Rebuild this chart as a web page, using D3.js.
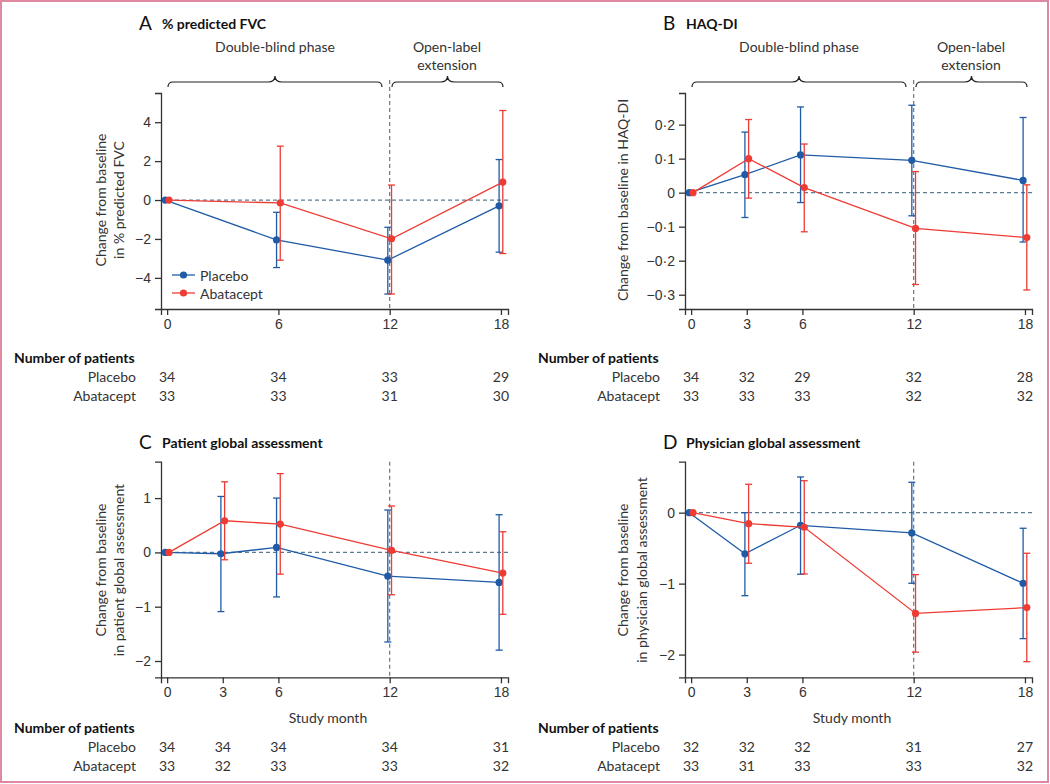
<!DOCTYPE html>
<html>
<head>
<meta charset="utf-8">
<script src="https://cdn.jsdelivr.net/npm/d3@7"></script>
<style>
  body { margin: 0; background: #fff; }
  svg { display: block; font-family: Lato, "Open Sans", sans-serif; }
  .tick text { font-size: 14px; fill: #333; }
  .tick line, .domain { stroke: #333; stroke-width: 1.3; }
</style>
</head>
<body>
<script>
// study months
var fvcMonths = [0, 6, 12, 18];
var months = [0, 3, 6, 12, 18];

// A: % predicted FVC
var fvcPlaceboMean = [0, -2.05, -3.09, -0.3];
var fvcPlaceboLow = [null, -3.47, -4.83, -2.68];
var fvcPlaceboHigh = [null, -0.63, -1.4, 2.08];
var fvcAbataceptMean = [0, -0.15, -1.99, 0.92];
var fvcAbataceptLow = [null, -3.09, -4.83, -2.75];
var fvcAbataceptHigh = [null, 2.77, 0.77, 4.6];
var fvcPlaceboN = [34, 34, 33, 29];
var fvcAbataceptN = [33, 33, 31, 30];
var fvcTicks = [-4, -2, 0, 2, 4];

// B: HAQ-DI
var haqPlaceboMean = [0, 0.053, 0.111, 0.095, 0.036];
var haqPlaceboLow = [null, -0.073, -0.029, -0.068, -0.145];
var haqPlaceboHigh = [null, 0.178, 0.252, 0.257, 0.221];
var haqAbataceptMean = [0, 0.1, 0.015, -0.105, -0.132];
var haqAbataceptLow = [null, -0.016, -0.115, -0.27, -0.286];
var haqAbataceptHigh = [null, 0.215, 0.143, 0.062, 0.023];
var haqPlaceboN = [34, 32, 29, 32, 28];
var haqAbataceptN = [33, 33, 33, 32, 32];
var haqTicks = [-0.3, -0.2, -0.1, 0, 0.1, 0.2];

// C: patient global assessment
var ptPlaceboMean = [0, -0.025, 0.092, -0.437, -0.553];
var ptPlaceboLow = [null, -1.09, -0.82, -1.65, -1.8];
var ptPlaceboHigh = [null, 1.03, 1.0, 0.78, 0.694];
var ptAbataceptMean = [0, 0.583, 0.522, 0.037, -0.38];
var ptAbataceptLow = [null, -0.136, -0.4, -0.78, -1.14];
var ptAbataceptHigh = [null, 1.3, 1.45, 0.854, 0.38];
var ptPlaceboN = [34, 34, 34, 34, 31];
var ptAbataceptN = [33, 32, 33, 33, 32];
var ptTicks = [-2, -1, 0, 1];

// D: physician global assessment
var phPlaceboMean = [0, -0.58, -0.178, -0.286, -0.995];
var phPlaceboLow = [null, -1.17, -0.868, -0.995, -1.775];
var phPlaceboHigh = [null, 0, 0.503, 0.428, -0.22];
var phAbataceptMean = [0, -0.155, -0.206, -1.42, -1.338];
var phAbataceptLow = [null, -0.713, -0.864, -1.966, -2.1];
var phAbataceptHigh = [null, 0.4, 0.45, -0.873, -0.572];
var phPlaceboN = [32, 32, 32, 31, 27];
var phAbataceptN = [33, 31, 33, 33, 32];
var phTicks = [-2, -1, 0];

var BLUE = "#1f5ba6", RED = "#ee3b34", DASH = "#5a7d92", INK = "#333";

var svg = d3.select("body").append("svg")
    .attr("width", 1050).attr("height", 784);

// pink frame
svg.append("rect")
    .attr("x", 1).attr("y", 1).attr("width", 1047).attr("height", 781)
    .attr("fill", "none").attr("stroke", "#df88a1").attr("stroke-width", 2);

// number format with middle dot and real minus
function fmt(d) {
    if (Math.abs(d) < 1e-9) return "0";
    var s = String(Math.round(Math.abs(d) * 10) / 10).replace(".", "\u00b7");
    return (d < 0 ? "\u2212" : "") + s;
}

function brace(g, x1, x2) {
    var mid = (x1 + x2) / 2, yb = 87, yf = 82, yt = 76;
    g.append("path")
        .attr("d", "M" + x1 + "," + yb + " Q" + x1 + "," + yf + " " + (x1 + 5) + "," + yf +
            " L" + (mid - 7) + "," + yf + " Q" + mid + "," + yf + " " + mid + "," + yt +
            " Q" + mid + "," + yf + " " + (mid + 7) + "," + yf +
            " L" + (x2 - 5) + "," + yf + " Q" + x2 + "," + yf + " " + x2 + "," + yb)
        .attr("fill", "none").attr("stroke", "#222").attr("stroke-width", 1.2);
}

function drawPanel(p) {
    var g = svg.append("g").attr("transform", "translate(" + p.ox + ",0)");

    var x = d3.scaleLinear().domain([-0.33, 18.38]).range([161, 508]);
    var y = d3.scaleLinear().domain(p.yDomain).range([p.bottom, p.top]);

    // title
    g.append("text").attr("x", 139).attr("y", p.titleY)
        .attr("dominant-baseline", "central")
        .style("font-size", "19px").style("fill", "#111").text(p.letter);
    g.append("text").attr("x", 162).attr("y", p.titleY + 1)
        .attr("dominant-baseline", "central")
        .style("font-size", "14px").style("font-weight", "bold").style("fill", "#111")
        .text(p.title);

    // phase braces + labels (top panels only)
    if (p.braces) {
        brace(g, 168, 382);
        brace(g, 392, 503);
        g.append("text").attr("x", 275).attr("y", 46).attr("text-anchor", "middle")
            .attr("dominant-baseline", "central").style("font-size", "14px").style("fill", INK)
            .text("Double-blind phase");
        g.append("text").attr("x", 447).attr("y", 46).attr("text-anchor", "middle")
            .attr("dominant-baseline", "central").style("font-size", "14px").style("fill", INK)
            .text("Open-label");
        g.append("text").attr("x", 447).attr("y", 64).attr("text-anchor", "middle")
            .attr("dominant-baseline", "central").style("font-size", "14px").style("fill", INK)
            .text("extension");
    }

    // reference lines
    g.append("line").attr("x1", 161).attr("x2", 508).attr("y1", y(0)).attr("y2", y(0))
        .attr("stroke", DASH).attr("stroke-width", 1.2).attr("stroke-dasharray", "4,3");
    g.append("line").attr("x1", x(12)).attr("x2", x(12)).attr("y1", p.vTop).attr("y2", p.bottom)
        .attr("stroke", DASH).attr("stroke-width", 1.2).attr("stroke-dasharray", "4,3");

    // axes
    g.append("g").attr("transform", "translate(0," + p.bottom + ")")
        .call(d3.axisBottom(x).tickValues(p.months).tickSizeOuter(0).tickSize(6).tickPadding(4));
    g.append("g").attr("transform", "translate(161,0)")
        .call(d3.axisLeft(y).tickValues(p.yTicks).tickFormat(fmt).tickSizeOuter(0).tickSize(6).tickPadding(4));

    // y-axis title
    var yl = g.append("g").attr("transform", "translate(0," + p.ylCenter + ") rotate(-90)");
    p.yLabel.forEach(function (t, i) {
        yl.append("text").attr("x", 0).attr("y", p.ylX[i])
            .attr("text-anchor", "middle").attr("dominant-baseline", "central")
            .style("font-size", "14px").style("fill", INK).text(t);
    });

    if (p.xLabel) {
        g.append("text").attr("x", 328).attr("y", 717).attr("text-anchor", "middle")
            .attr("dominant-baseline", "central").style("font-size", "14px").style("fill", INK)
            .text("Study month");
    }

    // series
    p.series.forEach(function (s) {
        var pts = p.months.map(function (m, i) {
            return { m: m + s.shift, v: s.mean[i], lo: s.low[i], hi: s.high[i] };
        });
        var bars = pts.filter(function (d) { return d.lo !== null; });
        var eb = g.append("g").attr("stroke", s.color).attr("stroke-width", 1.3);
        bars.forEach(function (d) {
            eb.append("line").attr("x1", x(d.m)).attr("x2", x(d.m)).attr("y1", y(d.lo)).attr("y2", y(d.hi));
            eb.append("line").attr("x1", x(d.m) - 3.5).attr("x2", x(d.m) + 3.5).attr("y1", y(d.lo)).attr("y2", y(d.lo));
            eb.append("line").attr("x1", x(d.m) - 3.5).attr("x2", x(d.m) + 3.5).attr("y1", y(d.hi)).attr("y2", y(d.hi));
        });
        g.append("path").datum(pts)
            .attr("fill", "none").attr("stroke", s.color).attr("stroke-width", 1.3)
            .attr("d", d3.line().x(function (d) { return x(d.m); }).y(function (d) { return y(d.v); }));
        g.selectAll(null).data(pts).enter().append("circle")
            .attr("cx", function (d) { return x(d.m); })
            .attr("cy", function (d) { return y(d.v); })
            .attr("r", 3.6).attr("fill", s.color);
    });

    // legend (panel A)
    if (p.legend) {
        p.series.forEach(function (s, i) {
            var ly = 275 + i * 18;
            g.append("line").attr("x1", 172).attr("x2", 195).attr("y1", ly).attr("y2", ly)
                .attr("stroke", s.color).attr("stroke-width", 1.3);
            g.append("circle").attr("cx", 183.5).attr("cy", ly).attr("r", 3.6).attr("fill", s.color);
            g.append("text").attr("x", 200).attr("y", ly).attr("dominant-baseline", "central")
                .style("font-size", "14px").style("fill", INK).text(s.name);
        });
    }

    // number at risk table
    g.append("text").attr("x", 14).attr("y", p.tableY).attr("dominant-baseline", "central")
        .style("font-size", "14px").style("font-weight", "bold").style("fill", "#111")
        .text("Number of patients");
    p.series.forEach(function (s, i) {
        var ry = p.tableY + 19.5 + i * 19;
        g.append("text").attr("x", 136).attr("y", ry).attr("text-anchor", "end")
            .attr("dominant-baseline", "central").style("font-size", "14px").style("fill", INK)
            .text(s.name);
        g.selectAll(null).data(s.n).enter().append("text")
            .attr("x", function (d, j) { return x(p.months[j]); })
            .attr("y", ry).attr("text-anchor", "middle").attr("dominant-baseline", "central")
            .style("font-size", "14px").style("fill", INK)
            .text(function (d) { return d; });
    });
}

drawPanel({
    ox: 0, letter: "A", title: "% predicted FVC", titleY: 22,
    top: 93, bottom: 309, vTop: 80, yDomain: [-5.6, 5.5], yTicks: fvcTicks,
    months: fvcMonths, braces: true, legend: true, xLabel: false,
    yLabel: ["Change from baseline", "in % predicted FVC"], ylX: [100, 118], ylCenter: 200,
    tableY: 357,
    series: [
        { name: "Placebo", color: BLUE, shift: -0.1, mean: fvcPlaceboMean, low: fvcPlaceboLow, high: fvcPlaceboHigh, n: fvcPlaceboN },
        { name: "Abatacept", color: RED, shift: 0.1, mean: fvcAbataceptMean, low: fvcAbataceptLow, high: fvcAbataceptHigh, n: fvcAbataceptN }
    ]
});

drawPanel({
    ox: 524, letter: "B", title: "HAQ-DI", titleY: 22,
    top: 93, bottom: 309, vTop: 80, yDomain: [-0.342, 0.293], yTicks: haqTicks,
    months: months, braces: true, legend: false, xLabel: false,
    yLabel: ["Change from baseline in HAQ-DI"], ylX: [98], ylCenter: 200,
    tableY: 357,
    series: [
        { name: "Placebo", color: BLUE, shift: -0.1, mean: haqPlaceboMean, low: haqPlaceboLow, high: haqPlaceboHigh, n: haqPlaceboN },
        { name: "Abatacept", color: RED, shift: 0.1, mean: haqAbataceptMean, low: haqAbataceptLow, high: haqAbataceptHigh, n: haqAbataceptN }
    ]
});

drawPanel({
    ox: 0, letter: "C", title: "Patient global assessment", titleY: 441,
    top: 461.7, bottom: 677.3, vTop: 461.7, yDomain: [-2.3, 1.67], yTicks: ptTicks,
    months: months, braces: false, legend: false, xLabel: true,
    yLabel: ["Change from baseline", "in patient global assessment"], ylX: [100, 118], ylCenter: 570,
    tableY: 727,
    series: [
        { name: "Placebo", color: BLUE, shift: -0.1, mean: ptPlaceboMean, low: ptPlaceboLow, high: ptPlaceboHigh, n: ptPlaceboN },
        { name: "Abatacept", color: RED, shift: 0.1, mean: ptAbataceptMean, low: ptAbataceptLow, high: ptAbataceptHigh, n: ptAbataceptN }
    ]
});

drawPanel({
    ox: 524, letter: "D", title: "Physician global assessment", titleY: 441,
    top: 461.7, bottom: 677.3, vTop: 461.7, yDomain: [-2.32, 0.718], yTicks: phTicks,
    months: months, braces: false, legend: false, xLabel: true,
    yLabel: ["Change from baseline", "in physician global assessment"], ylX: [98, 117], ylCenter: 570,
    tableY: 727,
    series: [
        { name: "Placebo", color: BLUE, shift: -0.1, mean: phPlaceboMean, low: phPlaceboLow, high: phPlaceboHigh, n: phPlaceboN },
        { name: "Abatacept", color: RED, shift: 0.1, mean: phAbataceptMean, low: phAbataceptLow, high: phAbataceptHigh, n: phAbataceptN }
    ]
});
</script>
</body>
</html>
